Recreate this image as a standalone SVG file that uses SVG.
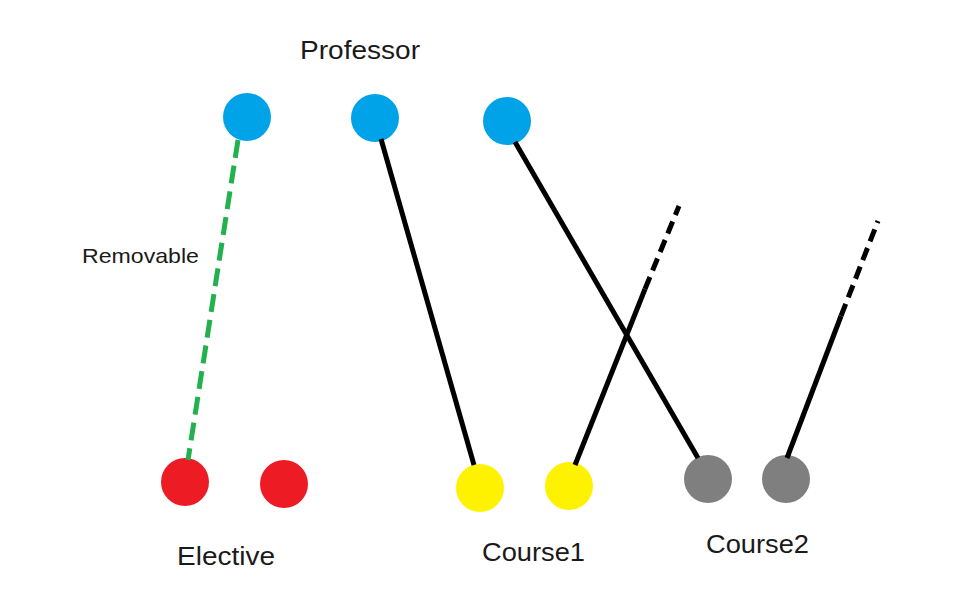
<svg xmlns="http://www.w3.org/2000/svg" width="978" height="594" viewBox="0 0 978 594">
<style>
.lbl{font-family:"Liberation Sans",Arial,sans-serif;fill:#1a1a1a}
.blue{fill:#00a2e8}
.red{fill:#ed1c24}
.yellow{fill:#fff200}
.gray{fill:#7f7f7f}
.edge{stroke:#000;stroke-width:5;fill:none;stroke-linecap:butt}
.dash{stroke:#000;stroke-width:5;fill:none;stroke-dasharray:13 7}
.green{stroke:#22b14c;stroke-width:5;fill:none;stroke-dasharray:18 8}
</style>
<rect width="978" height="594" fill="#fff"/>
<g id="professor">
<text class="lbl" x="300" y="59" font-size="26" textLength="120" lengthAdjust="spacingAndGlyphs">Professor</text>
<circle id="p1" class="blue" cx="247" cy="117" r="24"/>
<circle id="p2" class="blue" cx="375" cy="118" r="24"/>
<circle id="p3" class="blue" cx="507" cy="121" r="24"/>
</g>
<g id="elective">
<circle id="e1" class="red" cx="185" cy="482" r="24"/>
<circle id="e2" class="red" cx="284" cy="484" r="24"/>
<text class="lbl" x="177" y="565" font-size="26" textLength="98" lengthAdjust="spacingAndGlyphs">Elective</text>
</g>
<g id="course1">
<circle id="c1a" class="yellow" cx="480" cy="488" r="24"/>
<circle id="c1b" class="yellow" cx="569" cy="486" r="24"/>
<text class="lbl" x="482" y="561" font-size="26" textLength="103" lengthAdjust="spacingAndGlyphs">Course1</text>
</g>
<g id="course2">
<circle id="c2a" class="gray" cx="708" cy="479" r="24"/>
<circle id="c2b" class="gray" cx="786" cy="479" r="24"/>
<text class="lbl" x="706" y="553" font-size="26" textLength="103" lengthAdjust="spacingAndGlyphs">Course2</text>
</g>
<g id="connectors">
<line class="green" x1="238" y1="140" x2="188" y2="460"/>
<text class="lbl" x="82" y="263" font-size="21" textLength="117" lengthAdjust="spacingAndGlyphs">Removable</text>
<line class="edge" x1="381" y1="139" x2="474" y2="465"/>
<line class="edge" x1="515" y1="142" x2="698" y2="458"/>
<line class="edge" x1="575" y1="465" x2="645" y2="289"/>
<line class="dash" x1="645" y1="289" x2="679" y2="206"/>
<line class="edge" x1="787" y1="458" x2="841" y2="316"/>
<line class="dash" x1="841" y1="316" x2="878" y2="221"/>
</g>
</svg>
